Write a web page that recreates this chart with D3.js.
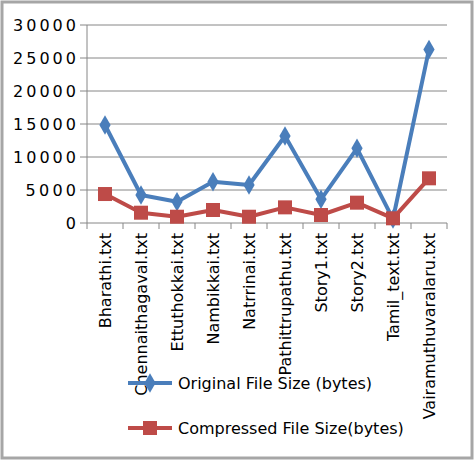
<!DOCTYPE html>
<html><head><meta charset="utf-8">
<script src="https://d3js.org/d3.v7.min.js"></script>
<style>body{margin:0;background:#fff}svg{font-family:"DejaVu Sans",sans-serif}</style>
</head><body><svg id="c" width="474" height="460"></svg>
<script>
const categories=["Bharathi.txt","Chennaithagaval.txt","Ettuthokkai.txt","Nambikkai.txt","Natrrinai.txt","Pathittrupathu.txt","Story1.txt","Story2.txt","Tamil_text.txt","Vairamuthuvaralaru.txt"];
const original=[14850,4240,3230,6260,5760,13180,3590,11310,600,26300];
const compressed=[4390,1560,950,1970,950,2370,1210,3080,710,6770];
const yTicks=[0,5000,10000,15000,20000,25000,30000];
const seriesNames=["Original File Size (bytes)","Compressed File Size(bytes)"];
const colors=["#4a7ebb","#be4b48"];
const svg=d3.select("#c");
svg.append("rect").attr("x",2).attr("y",2).attr("width",470).attr("height",456).attr("fill","#fff").attr("stroke","#a6a6a6").attr("stroke-width",3);
const x=d3.scaleBand().domain(categories).range([87,447]);
const y=d3.scaleLinear().domain([0,30000]).range([223,25]);
const g=svg.append("g");
yTicks.forEach(t=>{g.append("line").attr("x1",80).attr("x2",447).attr("y1",y(t)).attr("y2",y(t)).attr("stroke","#868686").attr("stroke-width",1);
 g.append("text").attr("x",76).attr("y",y(t)+6).attr("text-anchor","end").attr("font-size",16).attr("textLength",t?(String(t).length*12.6):12).attr("fill","#000").text(t);});
g.append("line").attr("x1",87).attr("x2",87).attr("y1",25).attr("y2",223).attr("stroke","#868686");
const edges=categories.map(c=>x(c)).concat([447]);
edges.forEach(e=>g.append("line").attr("x1",e).attr("x2",e).attr("y1",223).attr("y2",229).attr("stroke","#868686"));
categories.forEach(c=>g.append("text").attr("transform",`translate(${x(c)+x.bandwidth()/2+6},233) rotate(-90)`).attr("text-anchor","end").attr("font-size",16).text(c));
const line=d3.line().x((d,i)=>x(categories[i])+x.bandwidth()/2).y(d=>y(d));
[original,compressed].forEach((s,k)=>{
 g.append("path").attr("d",line(s)).attr("fill","none").attr("stroke",colors[k]).attr("stroke-width",4).attr("stroke-linejoin","round");
 s.forEach((v,i)=>{const cx=x(categories[i])+x.bandwidth()/2,cy=y(v);
  if(k===0)g.append("path").attr("d",d3.symbol(d3.symbolDiamond,110)()).attr("transform",`translate(${cx},${cy})`).attr("fill",colors[0]);
  else g.append("rect").attr("x",cx-7).attr("y",cy-7).attr("width",14).attr("height",14).attr("fill",colors[1]);});
});
seriesNames.forEach((n,k)=>{const ly=k?428:383;
 svg.append("line").attr("x1",128).attr("x2",172).attr("y1",ly).attr("y2",ly).attr("stroke",colors[k]).attr("stroke-width",4);
 if(k===0)svg.append("path").attr("d",d3.symbol(d3.symbolDiamond,110)()).attr("transform",`translate(150,${ly})`).attr("fill",colors[0]);
 else svg.append("rect").attr("x",143).attr("y",ly-7).attr("width",14).attr("height",14).attr("fill",colors[1]);
 svg.append("text").attr("x",178).attr("y",ly+6).attr("font-size",16).text(n);});
</script></body></html>
